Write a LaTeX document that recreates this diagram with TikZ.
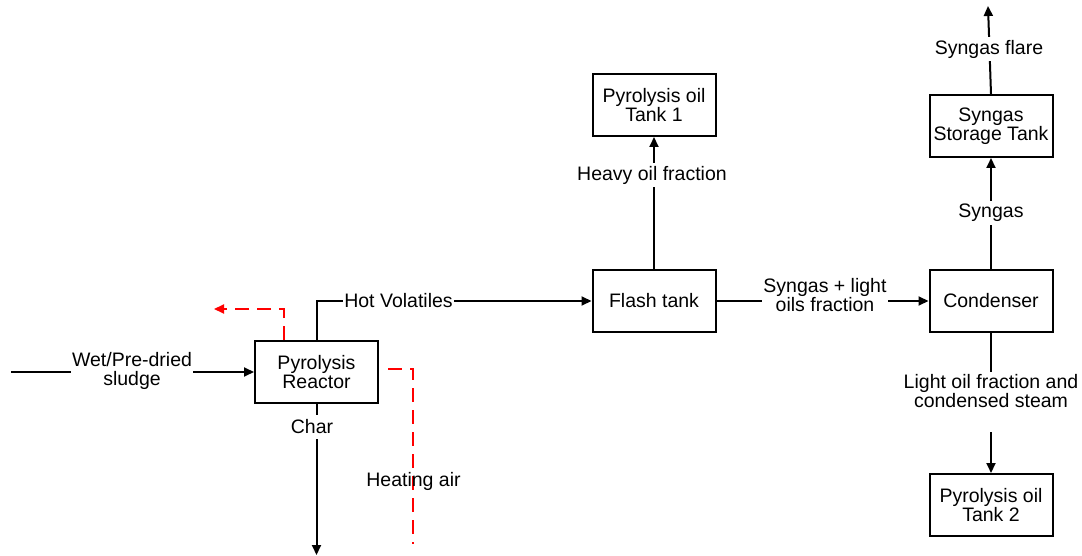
\documentclass[tikz,border=0pt]{standalone}
\usepackage{fontspec}
\setmainfont{Liberation Sans}
\usetikzlibrary{arrows.meta}
\begin{document}
\begin{tikzpicture}[x=1pt,y=-1pt,
  every node/.style={font=\fontsize{19.5}{19.5}\selectfont},
  unit/.style={draw, line width=2pt, minimum width=123pt, minimum height=62pt, align=center, inner sep=2pt},
  flow/.style={line width=2pt, -{Triangle[length=10pt,width=9pt]}},
  plain/.style={line width=2pt},
  reddash/.style={line width=2pt, red, dash pattern=on 14pt off 8pt},
  lbl/.style={fill=white, align=center, inner xsep=1pt, inner ysep=1pt}]
\useasboundingbox (0,0) rectangle (1082,556);

% units
\node[unit] (reactor) at (316.5,372) {Pyrolysis\\Reactor};
\node[unit] (flash) at (654,301) {Flash tank};
\node[unit] (tank1) at (654,105) {Pyrolysis oil\\Tank 1};
\node[unit] (cond) at (991,301) {Condenser};
\node[unit] (store) at (991,126) {Syngas\\Storage Tank};
\node[unit] (tank2) at (991,505) {Pyrolysis oil\\Tank 2};

% free ends
\coordinate (src) at (11,372);
\coordinate (charend) at (316.5,555);
\coordinate (flare) at (988,6);
\coordinate (exh) at (214,309);
\coordinate (ha1) at (388,369);
\coordinate (ha2) at (413,544);
\coordinate (lo1) at (991,372);
\coordinate (lo2) at (991,432);

% black flows
\draw[flow] (src) -- (reactor.west);
\node[lbl] (wetlbl) at (132,371) {Wet/Pre-dried\\sludge};

\draw[flow] (reactor.north) |- (flash.west);
\node[lbl] (hvlbl) at (398.5,301) {Hot Volatiles};

\draw[flow] (reactor.south) -- (charend);
\node[lbl, inner ysep=5pt] (charlbl) at (312,427) {Char};

\draw[flow] (flash.north) -- (tank1.south);
\node[lbl, inner ysep=3pt] (heavylbl) at (652,175) {Heavy oil fraction};

\draw[flow] (flash.east) -- (cond.west);
\node[lbl] (sglbl) at (825,295) {Syngas + light\\oils fraction};

\draw[flow] (cond.north) -- (store.south);
\node[lbl, inner ysep=3pt] (syngaslbl) at (991,213) {Syngas};

\draw[flow] (store.north) -- (flare);
\node[lbl, inner ysep=3pt] (flarelbl) at (989,49) {Syngas flare};

\draw[plain] (cond.south) -- (lo1);
\draw[flow] (lo2) -- (tank2.north);
\node[align=center] (lolbl) at (991,391) {Light oil fraction and\\condensed steam};

% red dashed
\draw[reddash, -{Triangle[length=10pt,width=9pt]}] ([xshift=-32.5pt]reactor.north) |- (exh);
\draw[reddash] (ha1) -| (ha2);
\node (halbl) at (413.5,481) {Heating air};
\end{tikzpicture}
\end{document}
